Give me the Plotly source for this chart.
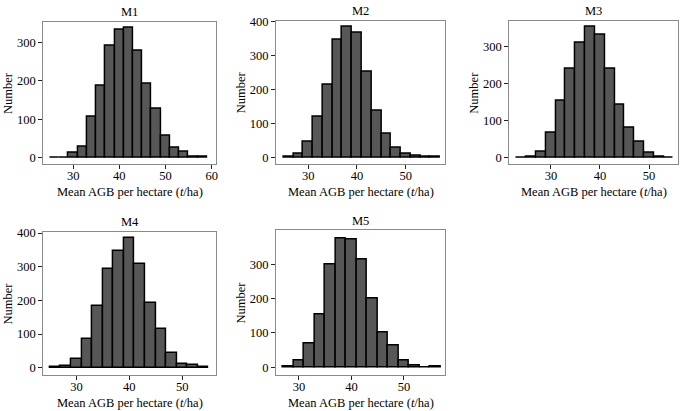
import plotly.graph_objects as go

W, H = 685, 411

models = ["M1", "M2", "M3", "M4", "M5"]
bin_width = 2
bin_start = {"M1": 25, "M2": 25, "M3": 23, "M4": 25, "M5": 27}

counts_m1 = [1, 1, 13, 28, 106, 187, 290, 332, 338, 279, 191, 126, 57, 26, 16, 3, 2]
counts_m2 = [1, 10, 47, 120, 213, 348, 384, 367, 252, 139, 71, 27, 11, 6, 1, 1]
counts_m3 = [1, 2, 17, 67, 153, 240, 309, 352, 332, 240, 144, 82, 42, 14, 3, 1]
counts_m4 = [1, 5, 26, 84, 184, 293, 348, 385, 309, 191, 116, 44, 11, 8, 1]
counts_m5 = [3, 19, 71, 153, 299, 376, 371, 313, 200, 103, 65, 21, 6, 1, 3]
counts = {"M1": counts_m1, "M2": counts_m2, "M3": counts_m3, "M4": counts_m4, "M5": counts_m5}

x_ticks = {"M1": [30, 40, 50, 60], "M2": [30, 40, 50], "M3": [30, 40, 50],
           "M4": [30, 40, 50], "M5": [30, 40, 50]}
y_ticks = {"M1": [0, 100, 200, 300], "M2": [0, 100, 200, 300, 400], "M3": [0, 100, 200, 300],
           "M4": [0, 100, 200, 300, 400], "M5": [0, 100, 200, 300]}
x_ranges = {"M1": [23.5, 60.95], "M2": [23.4, 58.1], "M3": [21.5, 55.9],
            "M4": [23.7, 56.4], "M5": [25.6, 57.9]}
y_ranges = {"M1": [-16.3, 353], "M2": [-19.4, 403], "M3": [-16.7, 369.5],
            "M4": [-20.4, 403], "M5": [-21, 398]}

# panel pixel boxes: left, right, top, bottom
boxes = {"M1": (43.3, 216.7, 16, 160.7), "M2": (276.7, 446.7, 15, 160.7),
         "M3": (510.7, 680, 15, 160.7), "M4": (43.3, 216.7, 230, 375),
         "M5": (276.7, 446.7, 228.3, 375)}

FONT = "Liberation Serif, Times New Roman, serif"
fig = go.Figure()
annotations = []
layout = {}
for i, m in enumerate(models, start=1):
    xs = [bin_start[m] + bin_width * k + bin_width / 2 for k in range(len(counts[m]))]
    sfx = "" if i == 1 else str(i)
    fig.add_trace(go.Bar(
        x=xs, y=counts[m], width=bin_width,
        marker=dict(color="#575757", line=dict(color="#000000", width=1.5)),
        xaxis="x" + sfx, yaxis="y" + sfx, showlegend=False,
    ))
    l, r, t, b = boxes[m]
    layout["xaxis" + sfx] = dict(
        domain=[l / W, r / W], anchor="y" + sfx, range=x_ranges[m],
        tickvals=x_ticks[m], ticks="outside", ticklen=4, tickwidth=1, tickcolor="#222",
        showline=True, linecolor="#8a8a8a", linewidth=1, mirror=True,
        showgrid=False, zeroline=False, ticklabelstandoff=-4,
        tickfont=dict(family=FONT, size=12.5, color="#000"),
    )
    layout["yaxis" + sfx] = dict(
        domain=[1 - b / H, 1 - t / H], anchor="x" + sfx, range=y_ranges[m],
        tickvals=y_ticks[m], ticks="outside", ticklen=4, tickwidth=1, tickcolor="#222",
        showline=True, linecolor="#8a8a8a", linewidth=1, mirror=True,
        showgrid=False, zeroline=False,
        tickfont=dict(family=FONT, size=12.5, color="#000"),
    )
    cx = (l + r) / 2 / W
    annotations.append(dict(text=m, x=cx, y=1 - (t - 10) / H, xref="paper", yref="paper",
                            showarrow=False, font=dict(family=FONT, size=12.5, color="#000"),
                            xanchor="center", yanchor="middle"))
    annotations.append(dict(text="Mean AGB per hectare (<i>t</i>/ha)", x=cx, y=1 - (b + 29) / H,
                            xref="paper", yref="paper", showarrow=False,
                            font=dict(family=FONT, size=12.5, color="#000"),
                            xanchor="center", yanchor="middle"))
    annotations.append(dict(text="Number", x=(l - 35) / W, y=1 - (t + b) / 2 / H,
                            xref="paper", yref="paper", showarrow=False, textangle=-90,
                            font=dict(family=FONT, size=12.5, color="#000"),
                            xanchor="center", yanchor="middle"))

fig.update_layout(
    width=W, height=H, margin=dict(l=0, r=0, t=0, b=0),
    paper_bgcolor="white", plot_bgcolor="white",
    annotations=annotations, bargap=0, **layout,
)
fig.write_html("out.html", config={"displayModeBar": False},
               post_script="document.body.style.margin='0';")
